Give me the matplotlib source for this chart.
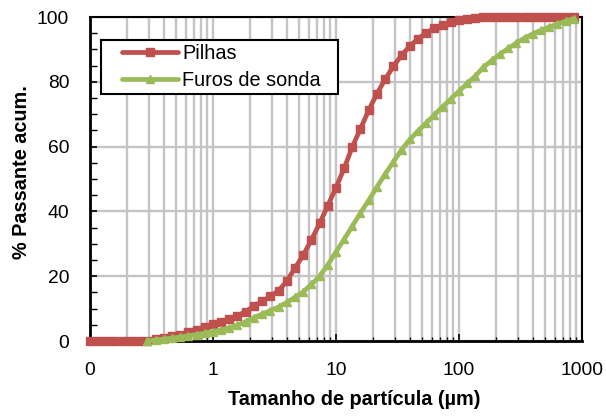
import matplotlib
matplotlib.use("Agg")
import matplotlib.pyplot as plt
from matplotlib import font_manager
from matplotlib.ticker import FixedLocator, NullFormatter, LogLocator
from matplotlib.legend_handler import HandlerLine2D

names = {f.name for f in font_manager.fontManager.ttflist}
if 'Liberation Sans Narrow' in names:
    FAM = ['Liberation Sans Narrow', 'Liberation Sans', 'DejaVu Sans']
    k = 1.0
else:
    FAM = ['Liberation Sans', 'DejaVu Sans']
    k = 0.84
plt.rcParams['font.family'] = FAM

# Particle sizes (µm)
sizes = [0.1, 0.117, 0.136, 0.158, 0.185, 0.215, 0.251, 0.293, 0.341, 0.398,
         0.464, 0.541, 0.631, 0.736, 0.858, 1.0, 1.17, 1.36, 1.58, 1.85,
         2.15, 2.51, 2.93, 3.41, 3.98, 4.64, 5.41, 6.31, 7.36, 8.58,
         10, 11.7, 13.6, 15.8, 18.5, 21.5, 25.1, 29.3, 34.1, 39.8,
         46.4, 54.1, 63.1, 73.6, 85.8, 100, 117, 136, 158, 185,
         215, 251, 293, 341, 398, 464, 541, 631, 736, 858]

pilhas = [0, 0, 0, 0, 0, 0, 0, 0, 0.5, 0.9,
          1.4, 2.0, 2.7, 3.5, 4.3, 5.1, 5.9, 6.8, 7.8, 9.1,
          10.8, 12.2, 13.8, 15.5, 18.5, 22.5, 26.5, 31.2, 36.3, 41.8,
          47.3, 53.5, 60.0, 65.5, 71.3, 76.3, 80.8, 84.8, 88.2, 91.0,
          93.3, 95.1, 96.5, 97.6, 98.4, 99.0, 99.5, 99.8, 99.95, 100,
          100, 100, 100, 100, 100, 100, 100, 100, 100, 100]

furos_sizes = sizes[7:]
furos = [0, 0.3, 0.6, 0.9, 1.2, 1.6, 2.0, 2.4, 2.9, 3.4,
         4.1, 4.9, 6.0, 7.2, 8.3, 9.4, 10.5, 11.9, 13.5, 15.2,
         17.5, 20.0, 23.5, 27.5, 31.5, 35.5, 39.5, 43.5, 47.5, 51.5,
         55.3, 59.0, 62.2, 64.8, 67.3, 69.8, 72.3, 74.7, 77.1, 79.5,
         81.8, 84.5, 86.6, 88.5, 90.3, 92.0, 93.5, 94.8, 95.9, 96.9,
         97.8, 98.7, 99.5]

x_ticks = [0.1, 1, 10, 100, 1000]
x_ticklabels = ["0", "1", "10", "100", "1000"]
y_ticks = [0, 20, 40, 60, 80, 100]

red = "#c0504d"
green = "#9bbb59"

W, H = 606, 419
fig = plt.figure(figsize=(W / 100, H / 100), dpi=100)
L, R, T, B = 90, 582, 17, 341
ax = fig.add_axes([L / W, 1 - B / H, (R - L) / W, (B - T) / H])

ax.plot(sizes, pilhas, color=red, lw=3.4, marker='s', ms=5.8,
        label="Pilhas", clip_on=False, zorder=3, solid_capstyle='round')
ax.plot(furos_sizes, furos, color=green, lw=3.4, marker='^', ms=5.8,
        label="Furos de sonda", clip_on=False, zorder=4, solid_capstyle='round')

ax.set_xscale('log')
ax.set_xlim(0.1, 1000)
ax.set_ylim(0, 100)
ax.xaxis.set_major_locator(FixedLocator(x_ticks))
ax.set_xticklabels(x_ticklabels)
ax.xaxis.set_minor_locator(LogLocator(base=10, subs=range(2, 10)))
ax.xaxis.set_minor_formatter(NullFormatter())
ax.set_yticks(y_ticks)
ax.set_yticks(range(0, 101, 5), minor=True)

ax.grid(True, which='both', axis='x', color='#c4c4c4', lw=1.7, zorder=0)
ax.grid(True, which='major', axis='y', color='#c4c4c4', lw=1.7, zorder=0)
ax.set_axisbelow(True)

for s in ax.spines.values():
    s.set_color('black')
    s.set_linewidth(1.5)
ax.spines['left'].set_linewidth(2)
ax.spines['bottom'].set_linewidth(2)

fs_tick = 16.5 * k
fs_lab = 17 * k
ax.tick_params(axis='both', which='both', direction='in', top=False, right=False,
               colors='black', labelsize=fs_tick)
ax.tick_params(axis='y', which='major', length=5, width=1.2, pad=15)
ax.tick_params(axis='y', which='minor', length=5, width=1.0)
ax.tick_params(axis='x', which='major', length=5, width=1.2, pad=15)
ax.tick_params(axis='x', which='minor', length=3, width=1.0)

ax.set_xlabel("Tamanho de partícula (µm)", fontsize=fs_lab, fontweight='bold',
              labelpad=8, x=(354 - L) / (R - L))
ax.set_ylabel("% Passante acum.", fontsize=fs_lab, fontweight='bold')
ax.yaxis.set_label_coords((31 - L) / (R - L), (B - 172) / (B - T))

# Legend box in axes coordinates
lx0 = (101 - L) / (R - L)
lx1 = (338 - L) / (R - L)
ly1 = (B - 40) / (B - T)
ly0 = (B - 99) / (B - T)
fs_leg = 17 * k
em = fs_leg * 100 / 72
bp = 0.2
leg = ax.legend(loc='upper left', bbox_to_anchor=(lx0, ly0, lx1 - lx0, ly1 - ly0),
                mode='expand', borderaxespad=0,
                fontsize=fs_leg, frameon=True, fancybox=False, framealpha=1,
                edgecolor='black', handlelength=(178 - 101) / em - bp,
                labelspacing=0.41, borderpad=bp, handletextpad=4 / em,
                handler_map={plt.Line2D: HandlerLine2D(xpad=(122 - 101) / em - bp)})
leg.get_frame().set_linewidth(1.5)

fig.savefig("out.png", dpi=100)
